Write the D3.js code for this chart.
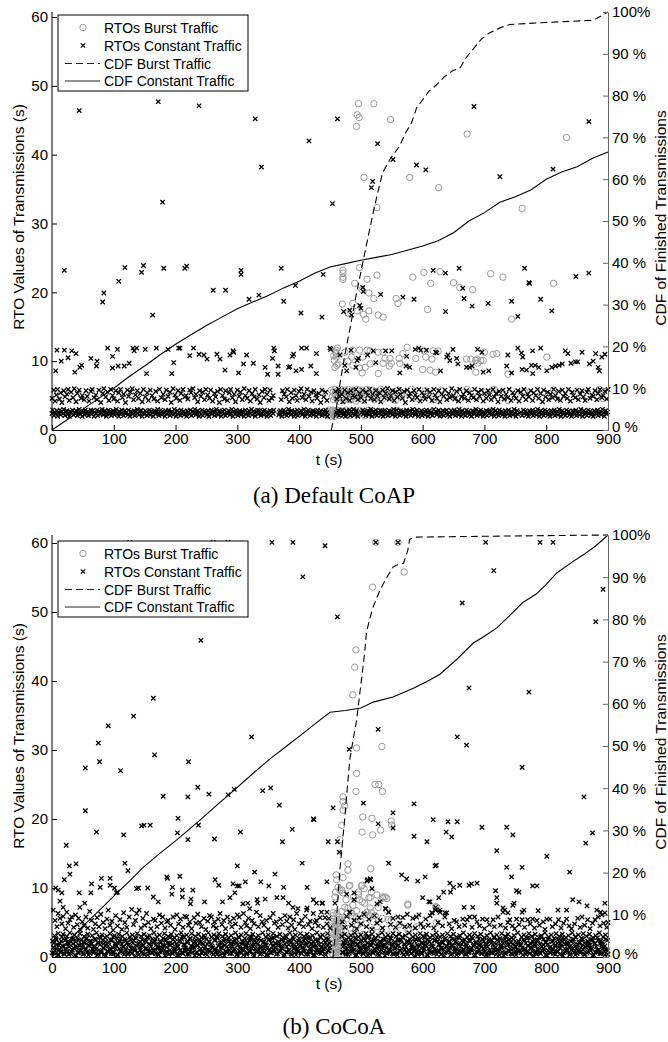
<!DOCTYPE html>
<html>
<head>
<meta charset="utf-8">
<title>RTO values and CDF of finished transmissions</title>
<script src="https://d3js.org/d3.v7.min.js"></script>
<style>
  body { margin: 0; background: #fff; }
  svg text { font-family: "Liberation Sans", Arial, sans-serif; fill: #000; }
  .caption { font-family: "Liberation Serif", "Times New Roman", serif; font-size: 23px; }
</style>
</head>
<body>
<svg id="chart" width="668" height="1042"></svg>
<script>
const tTicks = [0, 100, 200, 300, 400, 500, 600, 700, 800, 900];
const rtoTicks = [0, 10, 20, 30, 40, 50, 60];
const cdfTicks = [0, 10, 20, 30, 40, 50, 60, 70, 80, 90, 100];
const cdfTickLabels = ["0 %", "10 %", "20 %", "30 %", "40 %", "50 %", "60 %", "70 %", "80 %", "90 %", "100%"];
const legendLabels = ["RTOs Burst Traffic", "RTOs Constant Traffic", "CDF Burst Traffic", "CDF Constant Traffic"];

// ---- (a) Default CoAP ----  CDF points are [t, percent]
const aCdfBurst = [[452,0],[460,5],[466,11],[474,18],[482,24],[492,32],[503,40],[510,45],[517,50],[526,56],[535,61.5],[548,65],[563,68],[572,71],[582,73.5],[590,77],[600,79],[610,81],[622,82.5],[635,84.5],[649,86],[660,86.5],[670,89],[681,91],[695,93.5],[708,95],[725,96.2],[741,97],[800,97.5],[875,98],[888,99],[900,100]];
const aCdfConst = [[0,0],[25,2.5],[50,5],[75,7.5],[100,10],[125,12.8],[150,15.3],[175,18],[200,20.5],[225,22.8],[250,25],[275,27],[300,29],[325,30.6],[350,32.2],[375,34],[400,35.6],[425,37.5],[450,39],[475,39.8],[500,40.6],[525,41.3],[550,42],[575,43],[600,44],[625,45.3],[650,47.2],[675,50],[700,52],[725,54.5],[750,55.8],[775,57.4],[800,60],[825,61.7],[850,63],[875,65],[900,66.5]];

// scatter lists are flat: t, rto, t, rto, ...
const aBurstHigh = [496,47.4,521,47.4,494,45.8,497,45.4,493,44.1,548,45.1,672,43.0,833,42.5,505,36.7,579,36.7,626,35.2,526,32.3,761,32.2];
const aBurstMid = [471,23.2,471,22.8,471,22.2,471,21.9,498,23.6,510,21.9,526,22.5,490,21.3,502,20.4,513,19.9,521,19.1,470,18.3,487,18.4,479,17.0,494,17.3,513,17.3,504,16.8,508,16.1,528,16.7,536,16.4,557,19.1,560,18.4,584,22.2,602,22.9,613,21.3,628,23.0,608,17.5,650,21.4,660,20.7,681,20.4,710,22.7,730,22.2,744,16.1,812,21.3,
460,11.1,460,10.6,460,11.6,459,11.3,461,9.4,458,9.1,463,9.6,457,10.1,456,10.8,462,11.9,474,11.3,487,11.6,498,11.6,503,10.6,479,10.0,485,10.6,487,9.4,498,9.0,502,8.3,510,11.6,515,11.5,528,11.3,536,11.3,515,9.6,507,9.1,528,8.2,539,10.4,547,10.4,536,9.7,549,9.7,546,9.3,562,10.4,568,11.1,575,12.0,563,9.7,589,10.4,602,11.5,617,11.5,625,11.5,600,8.8,612,8.7,621,8.4,605,10.6,615,10.3,671,10.3,678,10.3,688,10.3,689,9.7,686,10.1,694,10.1,698,10.1,686,8.4,700,11.3,714,11.0,720,11.1,738,8.1,801,10.6];
const aBurstLow = [447,2.5,448,2.1,449,2.9,450,2.3,451,2.7,452,2.0,453,2.6,454,2.9,455,2.2,456,2.8,457,2.4,458,2.0,459,2.7,460,2.3,461,2.9,463,2.5,465,2.1,466,2.8,468,2.4,470,2.7,473,2.2,476,2.9,479,2.5,482,2.1,485,2.8,488,2.4,491,2.6,494,2.2,497,2.8,499,2.4,502,2.6,506,2.1,512,2.9,520,2.4,531,2.7,545,2.3,560,2.8,
452,5.8,454,4.9,455,5.5,456,4.4,458,5.9,459,5.1,461,4.6,462,5.7,464,4.2,465,5.3,467,5.9,468,4.8,470,5.5,472,4.3,474,5.8,476,5.0,478,4.6,480,5.9,482,5.3,484,4.4,486,5.7,488,4.9,490,5.5,492,4.2,494,5.9,497,5.1,499,4.6,502,5.8,504,4.3,507,5.4,510,5.9,513,4.7,516,5.2,519,5.8,522,4.4,525,5.6,528,4.9,532,5.9,535,4.5,539,5.3,543,5.9,547,4.8,551,5.5,556,4.3,560,5.8,566,4.9,575,5.4,582,5.9,592,4.6,604,5.7,618,4.4,630,5.8,652,5.2,660,4.5,672,5.9,688,4.8,702,5.5,716,5.9,738,4.3,765,5.6,812,5.8,886,5.9,891,4.6];

const aConstHigh = [44,46.4,172,47.7,238,47.1,329,45.2,462,45.2,416,42.0,339,38.2,179,33.1,454,32.9,527,41.6,552,39.3,590,38.5,605,37.8,519,36.1,517,35.2,683,47.0,725,36.8,811,37.9,869,44.8,
20,23.2,82,18.6,84,19.9,108,21.6,118,23.6,145,22.9,148,23.9,163,16.7,181,23.5,215,23.5,218,23.8,261,20.3,281,20.3,306,23.2,306,22.6,319,19.0,335,19.6,371,23.5,375,18.7,394,21.0,403,17.0,437,16.4,439,22.6,503,20.7,504,20.1,532,19.7,472,17.2,482,17.4,485,16.7,498,18.1,500,17.7,568,19.3,586,19.0,617,23.2,637,22.8,659,23.5,665,20.6,667,19.1,680,18.0,637,17.2,706,18.4,744,18.7,754,16.5,765,23.5,772,21.4,773,21.3,791,19.0,809,17.3,848,22.3,869,22.8];
const aConstMid = [6,8.6,8,11.6,15,10.0,20,11.6,26,10.5,32,11.5,37,8.4,39,11.1,45,9.1,48,9.4,63,10.4,72,9.3,73,10.0,90,11.9,98,10.7,98,9.0,106,11.7,107,9.3,117,9.3,125,9.7,131,11.9,133,11.5,137,11.9,151,11.7,153,8.2,169,11.9,188,11.7,194,8.2,197,9.8,205,11.9,207,11.9,223,10.8,229,11.9,238,11.0,246,10.9,251,10.3,267,11.0,272,10.3,280,8.7,288,10.9,293,11.5,294,11.3,302,8.3,310,9.6,315,10.9,326,9.7,345,9.1,349,8.1,357,10.4,359,11.9,360,11.5,366,9.3,366,8.1,383,9.1,385,9.2,389,10.7,391,11.0,395,8.6,404,11.9,412,11.9,404,8.8,419,9.3,428,11.1,428,8.2,450,11.9,451,11.7,466,10.9,474,9.4,477,8.6,484,11.6,492,9.1,494,10.1,496,10.4,511,10.9,520,11.5,524,9.8,540,11.5,550,11.5,563,8.3,573,9.3,574,10.7,579,9.1,588,11.7,594,11.9,597,11.6,606,11.6,621,11.3,623,11.2,629,8.6,639,10.6,641,10.9,644,10.1,649,11.7,655,10.4,657,9.6,671,9.1,676,9.1,680,9.3,689,11.7,696,11.3,698,8.4,707,8.6,736,9.3,738,10.9,744,8.3,754,11.9,760,11.2,761,8.8,762,10.6,768,8.7,776,9.4,778,11.5,778,8.2,782,9.4,788,9.1,791,11.9,801,8.6,809,9.1,815,9.3,821,9.4,826,9.6,831,11.5,835,11.1,840,9.7,847,9.9,851,9.9,858,11.3,870,9.6,876,10.0,880,11.1,884,9.1,886,8.6,890,10.6,895,11.0];
const aConstBand2 = [0,4.6,3,5.8,5,4.2,7,5.1,9,5.9,12,4.5,14,5.4,16,4.0,19,5.7,21,4.8,24,5.2,26,5.9,28,4.3,31,5.5,34,4.7,36,6.0,39,4.1,41,5.3,44,5.8,47,4.6,49,5.0,52,4.4,55,5.7,57,4.9,60,4.2,63,5.6,65,5.9,68,4.7,71,5.1,73,4.4,76,5.8,79,4.0,82,5.3,84,6.0,87,4.8,90,5.5,92,4.3,95,5.9,98,5.0,100,4.5,103,5.7,106,4.2,108,5.4,111,5.9,114,4.7,116,5.2,119,4.0,122,5.8,124,4.9,127,5.5,130,6.0,132,4.4,135,5.1,138,5.7,140,4.6,143,5.3,146,4.1,148,5.9,151,4.8,154,5.4,156,4.3,159,5.8,162,5.0,165,4.5,
168,5.6,171,4.2,174,5.9,177,4.7,180,5.2,183,4.4,185,5.8,188,4.9,191,5.5,193,4.0,196,6.0,199,5.1,201,4.6,204,5.7,207,4.3,209,5.3,212,5.9,215,4.8,217,5.0,220,4.5,223,5.8,225,5.4,228,6.0,231,4.7,233,5.2,236,4.1,239,5.7,241,4.9,244,5.5,247,4.4,249,5.9,252,5.1,255,4.6,257,5.8,260,4.2,263,5.3,265,4.8,268,5.6,271,4.0,273,5.9,276,5.0,279,4.5,281,5.7,284,4.3,287,5.4,289,5.9,292,4.7,295,5.2,297,4.1,300,5.8,303,4.9,305,5.5,308,4.4,311,6.0,313,5.0,316,4.6,319,5.7,321,4.2,324,5.3,327,4.8,329,5.9,332,4.5,335,5.1,337,4.0,340,5.6,343,4.7,345,5.9,348,5.2,351,4.3,353,5.8,356,4.6,358,5.0,
371,4.4,373,5.7,376,5.2,379,4.8,381,5.9,384,4.1,387,5.4,389,4.6,392,5.8,395,5.0,397,4.3,400,5.6,403,6.0,405,4.7,408,5.2,411,4.4,413,5.9,416,4.9,419,5.5,421,4.2,424,5.7,427,5.1,429,4.6,432,5.3,435,4.0,437,5.8,440,4.8,443,5.5,445,4.3,
459,5.6,461,4.5,464,5.9,466,4.9,469,5.2,471,4.1,474,5.8,476,4.6,479,5.4,482,4.3,484,5.7,487,5.0,490,4.8,492,5.9,495,4.4,498,5.3,500,4.7,503,5.8,506,4.2,508,5.5,511,5.0,514,5.9,516,4.6,519,5.2,522,4.4,524,5.7,527,4.9,530,5.4,532,4.1,535,5.8,538,4.7,540,5.3,543,6.0,546,4.5,548,5.0,551,5.7,554,4.3,556,5.5,559,4.8,562,5.9,564,5.2,567,4.6,570,5.6,572,4.0,575,5.8,578,4.9,580,5.3,583,4.4,586,5.7,588,5.1,591,4.7,594,5.9,596,4.2,599,5.4,602,5.0,604,4.5,607,5.8,610,4.8,612,5.5,615,4.3,618,5.9,620,5.1,623,4.6,626,5.7,628,4.1,631,5.2,634,4.9,636,5.8,639,4.4,642,5.3,644,4.7,647,6.0,650,5.0,652,4.5,655,5.6,658,4.2,660,5.9,663,4.8,666,5.2,668,4.6,671,5.7,674,4.3,676,5.4,679,5.0,682,4.7,684,5.9,687,4.4,690,5.5,692,4.9,695,5.8,698,4.2,700,5.3,703,4.6,706,5.7,708,5.1,711,4.4,714,5.9,716,4.8,719,5.3,722,4.1,724,5.6,727,4.9,730,5.8,732,4.5,735,5.2,738,4.7,740,5.9,743,4.3,746,5.4,748,5.0,751,4.6,754,5.7,756,4.2,759,5.5,762,4.9,764,5.9,767,4.4,770,5.2,772,4.8,775,5.7,778,4.3,780,5.4,783,5.0,786,5.9,788,4.6,791,5.3,794,4.1,796,5.8,799,4.8,802,5.5,804,4.4,807,5.2,810,4.7,812,5.9,815,5.0,818,4.5,820,5.6,823,4.3,826,5.8,828,4.9,831,5.3,834,4.6,836,5.9,839,4.2,842,5.5,844,5.0,847,4.7,850,5.8,852,4.4,855,5.2,858,5.7,860,4.8,863,4.3,866,5.5,868,5.9,871,4.6,874,5.1,876,4.9,879,5.7,882,4.4,884,5.3,887,5.9,890,4.7,892,5.0,895,5.6,898,4.5,900,5.9];
const aConstBand1 = [0,2.4,1,2.9,3,2.1,4,2.6,6,2.3,8,2.8,9,2.0,11,2.5,13,2.9,14,2.2,16,2.7,18,2.4,19,3.0,21,2.1,23,2.6,24,2.8,26,2.3,28,2.0,29,2.7,31,2.5,33,2.9,35,2.2,36,2.6,38,2.4,39,2.8,41,2.1,43,2.5,44,3.0,46,2.3,48,2.7,49,2.0,51,2.6,53,2.2,54,2.9,56,2.4,58,2.7,59,2.1,
61,2.5,63,2.9,64,2.3,66,2.8,68,2.0,69,2.6,71,2.4,73,2.9,74,2.1,76,2.7,78,2.3,79,2.5,81,3.0,83,2.2,84,2.6,86,2.8,88,2.0,89,2.4,91,2.9,93,2.3,94,2.7,96,2.1,98,2.5,99,2.8,101,2.2,103,2.6,104,3.0,106,2.4,108,2.0,109,2.7,111,2.3,113,2.9,114,2.5,116,2.1,118,2.8,119,2.4,
121,2.6,123,2.2,124,2.9,126,2.0,128,2.7,129,2.5,131,2.3,133,2.8,134,2.1,136,2.6,138,3.0,139,2.4,141,2.2,143,2.7,144,2.9,146,2.0,148,2.5,149,2.3,151,2.8,153,2.6,154,2.1,156,2.4,158,2.9,159,2.2,161,2.7,163,2.5,164,2.0,166,2.8,168,2.3,169,2.6,171,3.0,173,2.1,174,2.4,176,2.9,178,2.2,179,2.7,
181,2.5,183,2.0,184,2.8,186,2.3,188,2.6,189,2.9,191,2.1,193,2.4,194,2.7,196,2.2,198,3.0,199,2.5,201,2.0,203,2.8,204,2.3,206,2.6,208,2.1,209,2.9,211,2.4,213,2.7,214,2.2,216,2.5,218,2.0,219,2.8,221,2.6,223,2.3,224,2.9,226,2.1,228,2.7,229,2.4,231,3.0,233,2.2,234,2.5,236,2.8,238,2.0,239,2.6,
241,2.3,243,2.9,244,2.1,246,2.7,248,2.4,249,2.6,251,2.2,253,2.8,254,2.0,256,2.5,258,2.9,259,2.3,261,2.7,263,2.1,264,2.6,266,3.0,268,2.4,269,2.2,271,2.8,273,2.5,274,2.0,276,2.7,278,2.3,279,2.9,281,2.1,283,2.6,284,2.4,286,2.8,288,2.2,289,2.5,291,3.0,293,2.0,294,2.7,296,2.3,298,2.9,299,2.6,
301,2.1,303,2.4,304,2.8,306,2.2,308,2.7,309,2.5,311,2.0,313,2.9,314,2.3,316,2.6,318,2.1,319,2.8,321,2.4,323,3.0,324,2.2,326,2.7,328,2.5,329,2.0,331,2.6,333,2.9,334,2.3,336,2.8,338,2.1,339,2.4,341,2.7,343,2.2,344,2.9,346,2.5,348,2.0,349,2.6,351,2.3,353,2.8,354,2.1,356,2.7,358,2.4,359,2.9,
367,2.2,368,2.6,370,2.8,372,2.0,373,2.5,375,2.9,377,2.3,378,2.7,380,2.1,382,2.4,383,3.0,385,2.6,387,2.2,388,2.8,390,2.5,392,2.0,393,2.7,395,2.3,397,2.9,398,2.1,400,2.6,402,2.4,403,2.8,405,2.2,407,2.5,408,3.0,410,2.0,412,2.7,413,2.3,415,2.9,417,2.6,418,2.1,420,2.4,422,2.8,423,2.2,425,2.7,427,2.5,428,2.0,430,2.9,432,2.3,433,2.6,435,2.8,437,2.1,438,2.4,440,2.7,442,2.2,443,2.9,445,2.5,446,2.0,
460,2.6,462,2.3,463,2.8,465,2.1,467,2.7,468,2.4,470,2.9,472,2.2,473,2.5,475,2.0,477,2.8,478,2.6,480,2.3,482,2.9,483,2.1,485,2.7,487,2.4,488,3.0,490,2.2,492,2.6,493,2.8,495,2.0,501,2.5,503,2.9,504,2.3,506,2.7,508,2.1,509,2.4,511,2.8,513,2.2,514,2.6,516,3.0,518,2.0,519,2.5,521,2.7,523,2.3,524,2.9,526,2.1,528,2.6,529,2.4,531,2.8,533,2.2,534,2.7,536,2.0,538,2.5,539,2.9,
541,2.3,543,2.6,544,2.1,546,2.8,548,2.4,549,2.7,551,2.2,553,3.0,554,2.5,556,2.0,558,2.9,559,2.3,561,2.6,563,2.1,564,2.8,566,2.4,568,2.7,569,2.2,571,2.5,573,2.0,574,2.9,576,2.6,578,2.3,579,2.8,581,2.1,583,2.4,584,3.0,586,2.7,588,2.2,589,2.5,591,2.9,593,2.0,594,2.6,596,2.3,598,2.8,599,2.1,
601,2.4,603,2.7,604,2.2,606,2.9,608,2.5,609,2.0,611,2.8,613,2.3,614,2.6,616,2.1,618,3.0,619,2.4,621,2.7,623,2.2,624,2.5,626,2.9,628,2.0,629,2.6,631,2.3,633,2.8,634,2.1,636,2.7,638,2.4,639,2.9,641,2.2,643,2.5,644,2.0,646,2.8,648,2.6,649,2.3,651,2.9,653,2.1,654,2.4,656,2.7,658,2.2,659,3.0,
661,2.5,663,2.0,664,2.8,666,2.3,668,2.6,669,2.1,671,2.9,673,2.4,674,2.7,676,2.2,678,2.5,679,2.0,681,2.8,683,2.6,684,2.3,686,3.0,688,2.1,689,2.4,691,2.7,693,2.2,694,2.9,696,2.5,698,2.0,699,2.6,701,2.3,703,2.8,704,2.1,706,2.7,708,2.4,709,2.9,711,2.2,713,2.5,714,3.0,716,2.0,718,2.8,719,2.3,
721,2.6,723,2.1,724,2.9,726,2.4,728,2.7,729,2.2,731,2.5,733,2.0,734,2.8,736,2.6,738,2.3,739,2.9,741,2.1,743,2.4,744,2.7,746,2.2,748,3.0,749,2.5,751,2.0,753,2.8,754,2.3,759,2.6,761,2.1,763,2.9,764,2.4,766,2.7,768,2.2,769,2.5,771,2.0,773,2.8,774,2.6,776,2.3,778,2.9,779,2.1,
781,2.4,783,2.7,784,2.2,786,3.0,788,2.5,789,2.0,791,2.8,793,2.3,794,2.6,796,2.1,798,2.9,799,2.4,801,2.7,803,2.2,804,2.5,806,2.0,808,2.8,809,2.6,811,2.3,813,2.9,814,2.1,816,2.4,818,2.7,819,2.2,821,3.0,823,2.5,824,2.0,826,2.8,828,2.3,829,2.6,831,2.1,833,2.9,834,2.4,836,2.7,838,2.2,839,2.5,
841,2.0,843,2.8,844,2.6,846,2.3,848,2.9,849,2.1,851,2.4,853,2.7,854,2.2,856,3.0,858,2.5,859,2.0,861,2.8,863,2.3,864,2.6,866,2.1,868,2.9,869,2.4,871,2.7,873,2.2,874,2.5,876,2.0,878,2.8,879,2.6,881,2.3,883,2.9,884,2.1,886,2.4,888,2.7,889,2.2,891,3.0,893,2.5,894,2.0,896,2.8,898,2.3,899,2.6];

// ---- (b) CoCoA ----
const bCdfBurst = [[455,0],[459,6],[462,12],[466,20.6],[470,27],[474,33],[478,40],[482,46.7],[488,52],[493,56],[497,61],[502,67],[506,72],[509,76.8],[514,80],[520,83],[531,87],[542,90],[552,92.4],[560,93],[569,93.3],[573,95],[576,96.4],[579,99],[590,99.5],[700,99.7],[900,100]];
const bCdfConst = [[0,0],[25,3.6],[50,7.3],[75,10.8],[100,14.4],[125,17.9],[148,21.3],[175,24.6],[200,27.5],[220,30],[240,32.5],[270,36.4],[300,40.2],[326,43.6],[355,47.2],[380,50],[410,53.4],[434,56.2],[450,58],[475,58.4],[500,59],[520,60.4],[552,61.6],[585,63.7],[610,65.5],[628,67],[655,70.5],[682,74.4],[700,76],[720,78],[740,80.8],[762,84],[784,86],[800,88.3],[817,91],[840,93.4],[860,95.3],[880,97.4],[900,100]];

const bBurstHigh = [524,60.1,560,60.1,570,55.8,519,53.6,492,44.5,490,42.0,487,38.0,493,30.3,534,30.5,493,26.6,523,25.0,529,25.0,535,24.0,492,24.0,471,23.2,471,22.5,474,21.9,471,21.3,503,20.3,518,20.1,549,19.7,550,19.1,469,19.1,502,18.1,519,17.7,532,18.4,466,17.0,479,13.5,479,12.6,516,12.8];
const bBurstMid = [460,11.9,461,11.2,471,11.5,482,10.4,501,10.3,463,10.1,469,9.7,459,9.4,481,10.3,502,10.4,505,9.9,496,9.0,517,9.4,535,8.7,539,8.7,466,9.7,471,9.3,476,8.3,488,8.7,458,8.7,496,9.4,498,8.3,506,7.8,515,8.6,526,9.0,536,8.5,542,8.5,513,8.6,502,8.0,487,7.5,474,7.2,479,7.1,485,6.4,510,6.5,515,7.1,528,7.2,542,6.8,576,7.7,623,7.2,576,7.5,621,7.3,469,6.6,477,6.2,493,6.7,506,6.2,517,6.4,523,6.0];
const bBurstLow = [453,0.5,453,2.0,453,3.6,453,5.1,454,1.2,454,2.8,454,4.4,455,0.3,455,6.0,456,1.9,456,3.3,456,5.5,457,0.9,457,2.5,457,4.2,458,1.5,458,3.9,459,0.4,459,2.2,459,5.0,460,1.1,460,3.0,460,4.6,461,0.7,461,2.6,461,6.3,462,1.6,462,3.6,462,5.4,463,0.3,463,2.1,463,4.1,464,1.3,464,2.9,464,4.9,465,0.8,465,3.4,465,5.8,466,1.8,466,2.4,466,4.4,467,0.5,467,3.1,467,5.2,468,1.4,468,2.7,468,3.8,
471,4.9,473,1.2,475,3.6,477,5.5,479,2.3,481,0.6,483,4.2,485,2.9,487,5.9,489,1.5,491,3.8,493,0.9,495,4.6,497,2.4,499,5.2,502,1.7,504,3.3,506,0.5,508,4.8,511,2.7,513,6.0,515,1.3,518,3.9,520,5.1,523,2.1,526,4.4,529,0.8,532,3.2,535,5.6,538,1.9,541,4.0,545,2.6,549,5.3,553,1.1,557,3.5,562,4.7,570,2.2,578,3.8,590,4.4,605,2.9,622,5.0,493,5.7,544,5.4,455,6.4,466,5.4,458,4.4,576,3.9];

const bConstSparse = [126,60.1,261,60.1,285,60.1,356,60.1,390,60.1,442,59.6,406,55.1,462,49.3,241,45.9,164,37.5,132,34.9,91,33.5,524,60.1,560,60.1,702,60.1,790,60.1,811,60.1,715,56.0,664,51.3,892,53.3,880,48.6,675,39.0,772,38.4,528,33.0,
75,31.0,77,28.3,54,27.4,166,29.3,111,27.0,221,28.3,323,31.9,54,21.2,72,18.1,116,17.7,180,23.3,220,23.2,236,24.6,254,23.6,285,23.5,295,24.3,341,24.1,354,24.5,368,22.0,204,20.1,145,19.0,149,19.1,159,19.1,203,18.0,237,19.1,220,17.0,263,17.1,305,18.1,373,16.7,389,18.5,423,20.0,424,19.9,455,21.6,462,16.7,447,16.7,23,16.2,28,13.2,29,12.0,39,13.5,20,11.2,118,13.6,123,12.5,300,13.2,328,12.3,361,12.0,405,13.6,
6,10.0,10,9.7,16,9.3,13,8.1,18,7.2,44,9.3,45,7.2,53,7.8,64,10.6,63,9.3,78,10.1,80,11.4,94,11.4,94,10.4,101,10.0,106,9.4,104,9.3,137,9.9,140,10.0,155,10.0,164,8.7,172,8.0,186,11.6,187,11.4,195,10.1,194,9.1,207,11.7,211,9.7,211,8.7,228,9.7,225,8.4,224,7.7,247,8.0,264,11.2,270,10.4,276,8.0,288,8.6,293,10.6,300,10.3,303,10.3,296,9.3,313,10.9,309,7.7,317,7.8,320,7.0,338,10.9,332,8.3,333,7.8,345,8.4,351,10.3,364,8.6,374,8.6,375,10.1,383,7.8,390,7.2,398,7.0,413,10.1,413,7.1,423,8.3,428,7.8,437,7.8,445,6.5,458,7.8,445,10.9,438,7.8,
481,30.1,656,31.9,671,30.7,761,27.5,861,23.2,504,22.3,552,20.9,552,18.7,528,19.3,586,22.2,586,17.5,617,19.9,607,16.7,641,19.6,656,19.6,638,18.1,647,17.4,696,18.8,736,18.8,746,17.7,720,15.4,801,14.6,864,16.5,875,18.0,465,15.2,545,13.6,620,13.2,622,13.3,566,11.9,574,11.3,592,11.0,604,11.6,644,10.7,660,10.4,645,9.4,650,10.1,675,10.4,688,10.7,736,13.0,744,11.6,761,13.0,752,9.6,756,9.4,778,10.3,785,10.3,838,12.3,718,9.6,720,8.6,720,7.8,730,7.1,733,6.8,738,6.4,746,7.5,748,7.8,761,6.5,764,6.8,819,6.8,833,6.8,843,8.3,853,8.0,866,7.4,882,6.8,888,6.5,895,7.8,787,6.7,628,6.8,636,6.4,615,6.4,621,6.8,
515,11.3,510,11.0,518,9.9,679,10.6,634,9.4,600,8.6,610,8.0,626,8.6,667,7.2,681,7.2,489,9.3,477,9.1,489,8.3,482,6.5,511,11.2,516,11.2,526,7.7,531,8.0,540,7.0,545,6.5,612,8.0,621,7.2];
const bConstMid = [2,6.8,5,5.3,8,4.4,10,6.3,13,5.6,16,4.8,18,5.9,22,4.1,24,6.5,26,4.9,29,5.4,32,5.8,35,4.3,38,6.1,41,4.7,43,5.6,46,3.9,49,5.1,52,4.5,55,5.8,58,4.2,61,6.6,64,5.3,67,4.0,70,4.8,73,5.7,76,4.4,79,6.2,83,5.0,86,4.1,89,5.5,91,6.8,94,4.6,97,5.2,99,3.9,103,6.0,106,4.5,110,5.4,113,4.0,116,6.4,118,5.0,121,4.3,125,5.8,129,6.9,132,4.7,135,5.3,137,6.3,141,6.8,144,4.2,147,5.6,150,4.6,153,6.3,156,5.0,160,4.1,164,5.5,167,5.3,170,4.4,174,6.1,177,4.9,179,5.8,183,4.2,186,5.1,188,5.3,192,4.6,196,5.8,199,4.0,202,6.1,205,4.8,208,5.5,212,4.3,215,5.9,218,5.8,221,4.6,223,5.1,226,4.1,230,5.7,233,4.9,236,6.2,239,5.0,242,4.4,246,5.6,249,4.0,252,5.2,255,6.0,258,5.8,261,4.5,263,5.1,266,4.2,269,5.5,272,6.3,275,4.7,278,5.3,281,4.1,284,5.8,288,5.1,291,4.4,294,5.6,297,4.8,300,6.1,303,5.8,306,4.3,310,6.3,313,5.0,315,4.5,318,5.6,321,4.1,324,5.3,327,4.8,331,6.5,334,4.4,337,6.0,340,5.1,343,4.6,347,5.3,350,4.0,353,5.7,358,6.3,360,4.9,363,5.1,366,4.3,370,5.5,373,4.7,377,6.0,380,5.2,382,4.2,385,5.8,388,4.6,391,5.4,393,4.0,396,6.3,400,4.8,404,5.3,407,4.4,410,5.9,412,6.8,415,4.7,418,5.2,421,4.1,423,6.3,426,5.0,428,5.3,431,4.5,434,5.7,436,6.5,439,4.3,442,5.7,445,4.8,448,5.6,450,4.2,
470,5.1,474,4.3,477,5.9,482,6.5,485,4.6,489,5.3,493,4.1,497,5.7,500,4.8,505,6.2,509,4.4,513,5.5,518,4.0,522,6.0,526,4.9,531,5.3,535,4.2,540,7.0,545,6.5,548,4.7,552,5.6,556,4.3,560,5.8,563,4.9,568,5.7,571,4.4,575,6.2,579,4.6,584,5.6,588,4.2,590,5.8,594,6.1,597,4.8,601,4.3,605,5.5,609,4.6,612,6.0,615,6.4,618,4.2,621,6.8,625,5.0,628,6.5,632,4.5,636,5.8,639,6.4,643,4.8,647,4.1,651,5.3,655,5.1,659,4.4,665,5.5,668,4.6,672,5.4,676,5.8,680,4.3,684,5.8,688,5.1,692,4.5,697,5.5,700,4.1,704,5.4,708,4.7,714,5.4,716,4.4,722,5.8,726,4.6,730,6.5,734,4.2,738,5.0,741,5.4,745,4.5,749,4.1,752,5.5,756,4.7,761,5.4,765,4.3,770,5.4,774,4.8,778,5.5,781,4.2,785,5.3,789,4.6,795,5.1,798,4.0,801,5.5,806,5.5,810,4.4,815,4.8,820,5.4,824,4.2,828,4.9,833,5.5,837,4.5,841,4.1,846,4.8,851,5.6,855,4.3,858,5.8,862,4.6,867,5.4,871,4.1,875,4.9,879,5.4,884,5.8,887,4.5,890,6.1,893,4.9,895,6.4,898,4.3,900,5.0];
const bConstCore = [0,0.6,1,2.3,2,1.4,4,3.1,5,0.9,6,2.7,8,1.8,9,0.3,10,3.4,12,1.1,13,2.0,14,0.7,16,2.9,17,1.6,18,3.3,20,0.4,21,2.4,22,1.2,24,3.0,25,0.8,26,2.1,28,1.5,29,3.5,30,0.5,32,2.6,33,1.0,34,1.9,36,3.2,37,0.3,38,2.2,40,1.3,41,2.8,42,0.6,44,1.7,45,3.4,46,0.9,48,2.5,49,1.4,50,0.4,52,3.0,53,2.0,54,1.1,56,2.7,57,0.7,58,3.3,60,1.6,61,2.3,62,0.5,64,1.9,65,3.1,66,1.2,68,0.8,69,2.6,70,1.5,72,3.5,73,0.3,74,2.1,76,1.0,77,2.9,78,1.8,80,0.6,81,3.2,82,2.4,84,1.3,85,0.4,86,2.8,88,1.7,89,3.0,90,0.9,92,2.2,93,1.1,94,3.4,96,0.5,97,2.5,98,1.4,100,0.7,
101,3.1,102,2.0,104,1.6,105,2.7,106,0.3,108,3.3,109,1.2,110,2.3,112,0.8,113,1.9,114,3.0,116,1.5,117,0.4,118,2.6,120,1.0,121,3.5,122,2.1,124,0.6,125,1.8,126,2.9,128,1.3,129,0.5,130,3.2,132,2.4,133,1.1,134,0.9,136,2.7,137,1.6,138,3.4,140,0.3,141,2.0,142,1.4,144,3.0,145,0.7,146,2.5,148,1.7,149,3.3,150,0.4,152,2.2,153,1.2,154,2.8,156,0.8,157,1.9,158,3.1,160,1.5,161,0.6,162,2.6,164,1.0,165,3.5,166,2.3,168,0.5,169,1.8,170,2.9,172,1.3,173,0.3,174,3.2,176,2.1,177,1.1,178,0.9,180,2.7,181,1.6,182,3.4,184,0.7,185,2.4,186,1.4,188,3.0,189,0.4,190,2.0,192,1.7,193,3.3,194,0.6,196,2.5,197,1.2,198,2.8,200,0.8,
201,1.9,202,3.1,204,1.5,205,0.3,206,2.2,208,1.0,209,3.5,210,2.6,212,0.5,213,1.8,214,2.9,216,1.3,217,0.9,218,3.2,220,2.3,221,1.1,222,0.4,224,2.7,225,1.6,226,3.4,228,0.7,229,2.0,230,1.4,232,3.0,233,0.6,234,2.4,236,1.7,237,3.3,238,0.3,240,2.1,241,1.2,242,2.8,244,0.8,245,1.9,246,3.1,248,1.5,249,0.5,250,2.6,252,1.0,253,3.5,254,2.2,256,0.9,257,1.8,258,2.9,260,1.3,261,0.4,262,3.2,264,2.5,265,1.1,266,0.7,268,2.7,269,1.6,270,3.4,272,0.3,273,2.0,274,1.4,276,3.0,277,0.6,278,2.3,280,1.7,281,3.3,282,0.8,284,2.4,285,1.2,286,2.8,288,0.5,289,1.9,290,3.1,292,1.5,293,0.9,294,2.1,296,1.0,297,3.5,298,2.6,300,0.4,
301,1.8,302,2.9,304,1.3,305,0.7,306,3.2,308,2.2,309,1.1,310,0.3,312,2.7,313,1.6,314,3.4,316,0.6,317,2.0,318,1.4,320,3.0,321,0.8,322,2.5,324,1.7,325,3.3,326,0.5,328,2.3,329,1.2,330,2.8,332,0.9,333,1.9,334,3.1,336,1.5,337,0.4,338,2.4,340,1.0,341,3.5,342,2.1,344,0.7,345,1.8,346,2.9,348,1.3,349,0.3,350,3.2,352,2.6,353,1.1,354,0.6,356,2.7,357,1.6,358,3.4,360,0.8,361,2.0,362,1.4,364,3.0,365,0.5,366,2.2,368,1.7,369,3.3,370,0.9,372,2.5,373,1.2,374,2.8,376,0.4,377,1.9,378,3.1,380,1.5,381,0.7,382,2.3,384,1.0,385,3.5,386,2.4,388,0.3,389,1.8,390,2.9,392,1.3,393,0.6,394,3.2,396,2.1,397,1.1,398,0.8,400,2.7,
401,1.6,402,3.4,404,0.5,405,2.0,406,1.4,408,3.0,409,0.9,410,2.6,412,1.7,413,3.3,414,0.4,416,2.2,417,1.2,418,2.8,420,0.7,421,1.9,422,3.1,424,1.5,425,0.3,426,2.5,428,1.0,429,3.5,430,2.3,432,0.6,433,1.8,434,2.9,436,1.3,437,0.8,438,3.2,440,2.4,441,1.1,442,0.5,444,2.7,445,1.6,446,3.4,448,0.9,449,2.0,450,1.4,
469,3.0,470,0.7,472,2.1,473,1.7,474,3.3,476,0.4,477,2.5,478,1.2,480,2.8,481,0.6,482,1.9,484,3.1,485,1.5,486,0.9,488,2.2,489,1.0,490,3.5,492,2.6,493,0.3,494,1.8,496,2.9,497,1.3,498,0.7,500,3.2,
501,2.4,502,1.1,504,0.5,505,2.7,506,1.6,508,3.4,509,0.8,510,2.0,512,1.4,513,3.0,514,0.4,516,2.3,517,1.7,518,3.3,520,0.6,521,2.5,522,1.2,524,2.8,525,0.9,526,1.9,528,3.1,529,1.5,530,0.3,532,2.1,533,1.0,534,3.5,536,2.6,537,0.7,538,1.8,540,2.9,541,1.3,542,0.5,544,3.2,545,2.2,546,1.1,548,0.8,549,2.7,550,1.6,552,3.4,553,0.4,554,2.0,556,1.4,557,3.0,558,0.6,560,2.4,561,1.7,562,3.3,564,0.9,565,2.5,566,1.2,568,2.8,569,0.3,570,1.9,572,3.1,573,1.5,574,0.7,576,2.3,577,1.0,578,3.5,580,2.1,581,0.5,582,1.8,584,2.9,585,1.3,586,0.8,588,3.2,589,2.6,590,1.1,592,0.4,593,2.7,594,1.6,596,3.4,597,0.6,598,2.0,600,1.4,
601,3.0,602,0.9,604,2.2,605,1.7,606,3.3,608,0.3,609,2.5,610,1.2,612,2.8,613,0.7,614,1.9,616,3.1,617,1.5,618,0.5,620,2.4,621,1.0,622,3.5,624,2.3,625,0.8,626,1.8,628,2.9,629,1.3,630,0.4,632,3.2,633,2.1,634,1.1,636,0.6,637,2.7,638,1.6,640,3.4,641,0.9,642,2.0,644,1.4,645,3.0,646,0.3,648,2.6,649,1.7,650,3.3,652,0.7,653,2.2,654,1.2,656,2.8,657,0.5,658,1.9,660,3.1,661,1.5,662,0.8,664,2.4,665,1.0,666,3.5,668,2.5,669,0.4,670,1.8,672,2.9,673,1.3,674,0.6,676,3.2,677,2.3,678,1.1,680,0.9,681,2.7,682,1.6,684,3.4,685,0.3,686,2.0,688,1.4,689,3.0,690,0.7,692,2.1,693,1.7,694,3.3,696,0.5,697,2.6,698,1.2,700,2.8,
701,0.8,702,1.9,704,3.1,705,1.5,706,0.4,708,2.2,709,1.0,710,3.5,712,2.4,713,0.6,714,1.8,716,2.9,717,1.3,718,0.9,720,3.2,721,2.5,722,1.1,724,0.3,725,2.7,726,1.6,728,3.4,729,0.7,730,2.0,732,1.4,733,3.0,734,0.5,736,2.3,737,1.7,738,3.3,740,0.8,741,2.6,742,1.2,744,2.8,745,0.4,746,1.9,748,3.1,749,1.5,750,0.6,752,2.1,753,1.0,754,3.5,756,2.2,757,0.9,758,1.8,760,2.9,761,1.3,762,0.3,764,3.2,765,2.4,766,1.1,768,0.7,769,2.7,770,1.6,772,3.4,773,0.5,774,2.0,776,1.4,777,3.0,778,0.8,780,2.5,781,1.7,782,3.3,784,0.4,785,2.3,786,1.2,788,2.8,789,0.6,790,1.9,792,3.1,793,1.5,794,0.9,796,2.6,797,1.0,798,3.5,800,2.1,
801,0.3,802,1.8,804,2.9,805,1.3,806,0.7,808,3.2,809,2.2,810,1.1,812,0.5,813,2.7,814,1.6,816,3.4,817,0.8,818,2.0,820,1.4,821,3.0,822,0.4,824,2.4,825,1.7,826,3.3,828,0.6,829,2.5,830,1.2,832,2.8,833,0.9,834,1.9,836,3.1,837,1.5,838,0.3,840,2.3,841,1.0,842,3.5,844,2.6,845,0.7,846,1.8,848,2.9,849,1.3,850,0.5,852,3.2,853,2.1,854,1.1,856,0.8,857,2.7,858,1.6,860,3.4,861,0.4,862,2.0,864,1.4,865,3.0,866,0.6,868,2.2,869,1.7,870,3.3,872,0.9,873,2.5,874,1.2,876,2.8,877,0.3,878,1.9,880,3.1,881,1.5,882,0.7,884,2.4,885,1.0,886,3.5,888,2.3,889,0.5,890,1.8,892,2.9,893,1.3,894,0.8,896,3.2,897,2.6,898,1.1,900,0.4];
const bConstCore2 = [3,0.6,3,2.0,7,1.2,7,2.5,11,0.3,11,1.7,15,0.9,15,2.3,19,0.5,19,1.5,23,1.1,23,2.6,27,0.4,27,1.9,31,0.8,31,2.2,35,1.3,35,2.7,39,0.2,39,1.6,43,0.7,43,2.4,47,1.0,47,1.8,51,0.5,51,2.1,55,1.2,55,2.6,59,0.3,59,1.7,63,0.9,63,2.3,67,0.6,67,1.5,71,1.1,71,2.5,75,0.4,75,2.0,79,0.8,79,2.8,83,1.3,83,1.9,87,0.2,87,2.2,91,0.7,91,1.6,95,1.0,95,2.4,99,0.5,99,2.9,
103,1.2,103,1.8,107,0.3,107,2.1,111,0.9,111,2.6,115,0.6,115,1.5,119,1.1,119,2.3,123,0.4,123,1.7,127,0.8,127,2.5,131,1.3,131,2.0,135,0.2,135,2.8,139,0.7,139,1.9,143,1.0,143,2.2,147,0.5,147,1.6,151,1.2,151,2.4,155,0.3,155,2.9,159,0.9,159,1.8,163,0.6,163,2.1,167,1.1,167,2.6,171,0.4,171,1.5,175,0.8,175,2.3,179,1.3,179,1.7,183,0.2,183,2.5,187,0.7,187,2.0,191,1.0,191,2.8,195,0.5,195,1.9,199,1.2,199,2.2,
203,0.3,203,1.6,207,0.9,207,2.4,211,0.6,211,2.9,215,1.1,215,1.8,219,0.4,219,2.1,223,0.8,223,2.6,227,1.3,227,1.5,231,0.2,231,2.3,235,0.7,235,1.7,239,1.0,239,2.5,243,0.5,243,2.0,247,1.2,247,2.8,251,0.3,251,1.9,255,0.9,255,2.2,259,0.6,259,1.6,263,1.1,263,2.4,267,0.4,267,2.9,271,0.8,271,1.8,275,1.3,275,2.1,279,0.2,279,2.6,283,0.7,283,1.5,287,1.0,287,2.3,291,0.5,291,1.7,295,1.2,295,2.5,299,0.3,299,2.0,
303,0.9,303,2.8,307,0.6,307,1.9,311,1.1,311,2.2,315,0.4,315,1.6,319,0.8,319,2.4,323,1.3,323,2.9,327,0.2,327,1.8,331,0.7,331,2.1,335,1.0,335,2.6,339,0.5,339,1.5,343,1.2,343,2.3,347,0.3,347,1.7,351,0.9,351,2.5,355,0.6,355,2.0,359,1.1,359,2.8,363,0.4,363,1.9,367,0.8,367,2.2,371,1.3,371,1.6,375,0.2,375,2.4,379,0.7,379,2.9,383,1.0,383,1.8,387,0.5,387,2.1,391,1.2,391,2.6,395,0.3,395,1.5,399,0.9,399,2.3,
403,0.6,403,1.7,407,1.1,407,2.5,411,0.4,411,2.0,415,0.8,415,2.8,419,1.3,419,1.9,423,0.2,423,2.2,427,0.7,427,1.6,431,1.0,431,2.4,435,0.5,435,2.9,439,1.2,439,1.8,443,0.3,443,2.1,447,0.9,447,2.6,
471,0.6,471,1.5,475,1.1,475,2.3,479,0.4,479,1.7,483,0.8,483,2.5,487,1.3,487,2.0,491,0.2,491,2.8,495,0.7,495,1.9,499,1.0,499,2.2,
503,0.5,503,1.6,507,1.2,507,2.4,511,0.3,511,2.9,515,0.9,515,1.8,519,0.6,519,2.1,523,1.1,523,2.6,527,0.4,527,1.5,531,0.8,531,2.3,535,1.3,535,1.7,539,0.2,539,2.5,543,0.7,543,2.0,547,1.0,547,2.8,551,0.5,551,1.9,555,1.2,555,2.2,559,0.3,559,1.6,563,0.9,563,2.4,567,0.6,567,2.9,571,1.1,571,1.8,575,0.4,575,2.1,579,0.8,579,2.6,583,1.3,583,1.5,587,0.2,587,2.3,591,0.7,591,1.7,595,1.0,595,2.5,599,0.5,599,2.0,
603,1.2,603,2.8,607,0.3,607,1.9,611,0.9,611,2.2,615,0.6,615,1.6,619,1.1,619,2.4,623,0.4,623,2.9,627,0.8,627,1.8,631,1.3,631,2.1,635,0.2,635,2.6,639,0.7,639,1.5,643,1.0,643,2.3,647,0.5,647,1.7,651,1.2,651,2.5,655,0.3,655,2.0,659,0.9,659,2.8,663,0.6,663,1.9,667,1.1,667,2.2,671,0.4,671,1.6,675,0.8,675,2.4,679,1.3,679,2.9,683,0.2,683,1.8,687,0.7,687,2.1,691,1.0,691,2.6,695,0.5,695,1.5,699,1.2,699,2.3,
703,0.3,703,1.7,707,0.9,707,2.5,711,0.6,711,2.0,715,1.1,715,2.8,719,0.4,719,1.9,723,0.8,723,2.2,727,1.3,727,1.6,731,0.2,731,2.4,735,0.7,735,2.9,739,1.0,739,1.8,743,0.5,743,2.1,747,1.2,747,2.6,751,0.3,751,1.5,755,0.9,755,2.3,759,0.6,759,1.7,763,1.1,763,2.5,767,0.4,767,2.0,771,0.8,771,2.8,775,1.3,775,1.9,779,0.2,779,2.2,783,0.7,783,1.6,787,1.0,787,2.4,791,0.5,791,2.9,795,1.2,795,1.8,799,0.3,799,2.1,
803,0.9,803,2.6,807,0.6,807,1.5,811,1.1,811,2.3,815,0.4,815,1.7,819,0.8,819,2.5,823,1.3,823,2.0,827,0.2,827,2.8,831,0.7,831,1.9,835,1.0,835,2.2,839,0.5,839,1.6,843,1.2,843,2.4,847,0.3,847,2.9,851,0.9,851,1.8,855,0.6,855,2.1,859,1.1,859,2.6,863,0.4,863,1.5,867,0.8,867,2.3,871,1.3,871,1.7,875,0.2,875,2.5,879,0.7,879,2.0,883,1.0,883,2.8,887,0.5,887,1.9,891,1.2,891,2.2,895,0.3,895,1.6,899,0.9,899,2.4];

const pairs = flat => d3.range(0, flat.length - 1, 2).map(i => [flat[i], flat[i + 1]]);

const panels = [
  { top: 12, y60: 17, bottom: 430, tickPad: 3, xLabelY: 465, leftLabelY: 217, rightLabelY: 218,
    legendTop: 15, caption: "(a) Default CoAP", captionY: 503,
    cdfBurst: aCdfBurst, cdfConst: aCdfConst,
    burst: [aBurstHigh, aBurstMid, aBurstLow],
    constant: [aConstHigh, aConstMid, aConstBand2, aConstBand1] },
  { top: 535, y60: 543, bottom: 957, tickPad: 5, xLabelY: 989, leftLabelY: 736, rightLabelY: 742,
    legendTop: 541, caption: "(b) CoCoA", captionY: 1034,
    cdfBurst: bCdfBurst, cdfConst: bCdfConst,
    burst: [bBurstHigh, bBurstMid, bBurstLow],
    constant: [bConstSparse, bConstMid, bConstCore, bConstCore2] }
];

const svg = d3.select('#chart');
const crossPath = 'M-2.2,-2.2L2.2,2.2M-2.2,2.2L2.2,-2.2';
const grey = '#9a9a9a';

function drawPanel(p) {
  const x = d3.scaleLinear().domain([0, 900]).range([52, 608]);
  const yL = d3.scaleLinear().domain([0, 60]).range([p.bottom, p.y60]);
  const yR = d3.scaleLinear().domain([0, 100]).range([p.bottom, p.top]);
  const g = svg.append('g');

  g.append('g').selectAll('circle')
    .data(pairs([].concat(...p.burst)))
    .join('circle')
    .attr('cx', d => x(d[0]))
    .attr('cy', d => yL(d[1]))
    .attr('r', 3.2)
    .attr('fill', 'none')
    .attr('stroke', grey)
    .attr('stroke-width', 1);

  g.append('g').selectAll('path')
    .data(pairs([].concat(...p.constant)))
    .join('path')
    .attr('d', crossPath)
    .attr('transform', d => `translate(${x(d[0])},${yL(d[1])})`)
    .attr('fill', 'none')
    .attr('stroke', '#000')
    .attr('stroke-width', 1.3);

  const line = d3.line().x(d => x(d[0])).y(d => yR(d[1]));
  g.append('path').datum(p.cdfConst)
    .attr('d', line).attr('fill', 'none').attr('stroke', '#000').attr('stroke-width', 1.1);
  g.append('path').datum(p.cdfBurst)
    .attr('d', line).attr('fill', 'none').attr('stroke', '#000').attr('stroke-width', 1.1)
    .attr('stroke-dasharray', '7,4');

  // axes
  g.append('g')
    .attr('transform', `translate(0,${p.bottom})`)
    .call(d3.axisBottom(x).tickValues(tTicks).tickSize(-5).tickSizeOuter(0).tickPadding(p.tickPad))
    .attr('font-family', null).attr('font-size', 15)
    .call(a => a.select('.domain').attr('stroke', '#000'));

  g.append('g')
    .attr('transform', 'translate(52,0)')
    .call(d3.axisLeft(yL).tickValues(rtoTicks).tickSize(-5).tickPadding(4))
    .attr('font-family', null).attr('font-size', 15)
    .call(a => a.select('.domain').remove());
  g.append('line')
    .attr('x1', 52).attr('x2', 52).attr('y1', p.bottom).attr('y2', p.top)
    .attr('stroke', '#000');

  g.append('g')
    .attr('transform', 'translate(608,0)')
    .call(d3.axisRight(yR).tickValues(cdfTicks).tickFormat((d, i) => cdfTickLabels[i])
      .tickSize(-5).tickSizeOuter(0).tickPadding(4))
    .attr('font-family', null).attr('font-size', 15)
    .call(a => a.select('.domain').attr('stroke', '#666'))
    .call(a => a.selectAll('.tick line').attr('stroke', '#666'))
    .call(a => a.selectAll('.tick text').filter(d => d === 0).attr('dy', '0.1em'));

  g.append('text')
    .attr('transform', `translate(24,${p.leftLabelY}) rotate(-90)`)
    .attr('text-anchor', 'middle').attr('font-size', 15.5)
    .text('RTO Values of Transmissions (s)');
  g.append('text')
    .attr('transform', `translate(666,${p.rightLabelY}) rotate(-90)`)
    .attr('text-anchor', 'middle').attr('font-size', 15.5)
    .text('CDF of Finished Transmissions');
  g.append('text')
    .attr('x', 329).attr('y', p.xLabelY)
    .attr('text-anchor', 'middle').attr('font-size', 15.5)
    .text('t (s)');

  // legend
  const lg = g.append('g').attr('transform', `translate(58,${p.legendTop})`);
  lg.append('rect').attr('width', 190).attr('height', 76)
    .attr('fill', '#fff').attr('stroke', '#000').attr('stroke-width', 1);
  const rowY = [12.5, 30.5, 48.5, 66];
  lg.append('circle').attr('cx', 25).attr('cy', rowY[0]).attr('r', 3.2)
    .attr('fill', 'none').attr('stroke', grey);
  lg.append('path').attr('d', crossPath).attr('transform', `translate(25,${rowY[1]})`)
    .attr('stroke', '#000').attr('stroke-width', 1.2);
  lg.append('line').attr('x1', 7).attr('x2', 42).attr('y1', rowY[2]).attr('y2', rowY[2])
    .attr('stroke', '#222').attr('stroke-dasharray', '7,4');
  lg.append('line').attr('x1', 7).attr('x2', 42).attr('y1', rowY[3]).attr('y2', rowY[3])
    .attr('stroke', '#222');
  lg.selectAll('text.lab')
    .data(legendLabels)
    .join('text')
    .attr('class', 'lab')
    .attr('x', 46).attr('y', (d, i) => rowY[i])
    .attr('dy', '0.36em').attr('font-size', 14)
    .text(d => d);

  svg.append('text')
    .attr('class', 'caption')
    .attr('x', 334).attr('y', p.captionY)
    .attr('text-anchor', 'middle')
    .text(p.caption);
}

panels.forEach(drawPanel);
</script>
</body>
</html>
